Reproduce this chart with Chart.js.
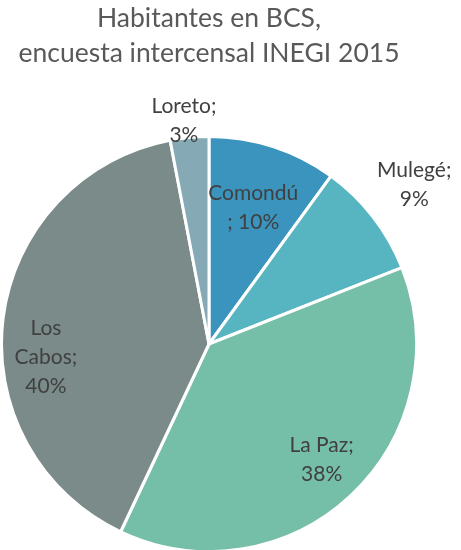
<!DOCTYPE html>
<html>
<head>
<meta charset="utf-8">
<script src="https://cdn.jsdelivr.net/npm/chart.js@4"></script>
<style>
  html, body { margin: 0; padding: 0; background: #ffffff; overflow: hidden; }
  #wrap { position: relative; width: 461px; height: 560px; }
</style>
</head>
<body>
<div id="wrap"><canvas id="pie"></canvas></div>
<script>
// Datos: población de BCS por municipio (porcentaje)
const municipios = ['Comondú', 'Mulegé', 'La Paz', 'Los Cabos', 'Loreto'];
const porcentajes = [10, 9, 38, 40, 3];
const colores = ['#3A94BE', '#57B5C1', '#75BEA7', '#7A8B8A', '#85AAB6'];

// Texto de cada etiqueta (como en Excel, con saltos de línea)
const etiquetas = [
    ['Comondú', '; 10%'],
    ['Mulegé;', '9%'],
    ['La Paz;', '38%'],
    ['Los', 'Cabos;', '40%'],
    ['Loreto;', '3%']
];
// Posición de la etiqueta: [factor del radio, desplazamiento del ángulo en grados]
const posEtiquetas = [[0.70, 0], [1.27, 0], [0.79, -1], [0.80, -11.7], [1.10, -1]];

// Plugin para dibujar las etiquetas de datos
const etiquetasPlugin = {
    id: 'etiquetas',
    afterDatasetsDraw(chart) {
        const ctx = chart.ctx;
        const meta = chart.getDatasetMeta(0);
        ctx.save();
        ctx.font = '21px Lato';
        ctx.fillStyle = '#404040';
        ctx.textAlign = 'center';
        ctx.textBaseline = 'middle';
        meta.data.forEach((arc, i) => {
            const p = arc.getProps(['x', 'y', 'startAngle', 'endAngle', 'outerRadius'], true);
            const ang = (p.startAngle + p.endAngle) / 2 + posEtiquetas[i][1] * Math.PI / 180;
            const r = (p.outerRadius - 3) * posEtiquetas[i][0];
            const cx = p.x + Math.cos(ang) * r;
            const cy = p.y + Math.sin(ang) * r;
            const lineas = etiquetas[i];
            const lh = 29;
            lineas.forEach((t, k) => {
                ctx.fillText(t, cx, cy + (k - (lineas.length - 1) / 2) * lh);
            });
        });
        ctx.restore();
    }
};

const ctx = document.getElementById('pie').getContext('2d');
new Chart(ctx, {
    type: 'pie',
    data: {
        labels: municipios,
        datasets: [{
            data: porcentajes,
            backgroundColor: colores,
            borderColor: '#ffffff',
            borderWidth: 3
        }]
    },
    options: {
        responsive: true,
        maintainAspectRatio: false,
        animation: false,
        layout: { padding: { left: 0, right: 43, top: 0, bottom: 7 } },
        plugins: {
            legend: { display: false },
            tooltip: { enabled: false },
            title: {
                display: true,
                text: ['Habitantes en BCS,', 'encuesta intercensal INEGI 2015'],
                color: '#595959',
                font: { family: 'Lato', size: 26.5, weight: 'normal', lineHeight: 35 / 26.5 },
                padding: { top: 1, bottom: 64 }
            }
        }
    },
    plugins: [etiquetasPlugin]
});
</script>
</body>
</html>
